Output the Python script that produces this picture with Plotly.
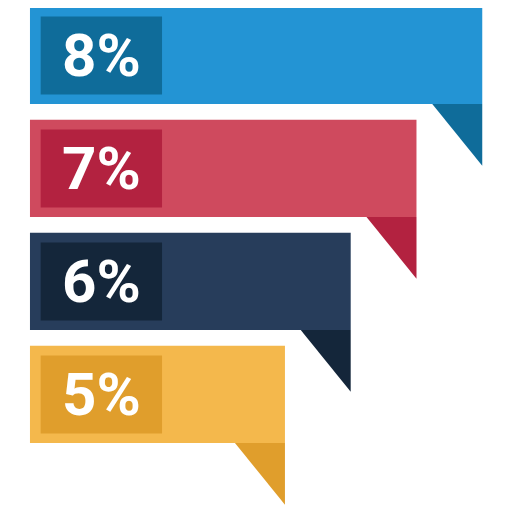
import plotly.graph_objects as go

# Data
labels = ["8%", "7%", "6%", "5%"]
values = [8, 7, 6, 5]
bar_colors = ["#2394D4", "#CF4A5E", "#273D5B", "#F4B84C"]
dark_colors = ["#0F6C9A", "#B32240", "#14263A", "#E09E2C"]

# Style constants (in axis units)
floor = 1.123          # visual start of bars on the value axis
box_start, box_end = 1.286, 3.131
bar_h = 0.86
box_h = 0.69
tri_w = 0.76
tri_h = 0.545

pos = list(range(len(values)))

fig = go.Figure()
fig.add_trace(go.Bar(
    y=pos, x=[v - floor for v in values], base=floor, orientation="h",
    width=bar_h, marker=dict(color=bar_colors, line=dict(width=0)),
    hoverinfo="skip", showlegend=False))
fig.add_trace(go.Bar(
    y=pos, x=[box_end - box_start] * len(values), base=box_start, orientation="h",
    width=box_h, marker=dict(color=dark_colors, line=dict(width=0)),
    hoverinfo="skip", showlegend=False))

for i, v in enumerate(values):
    yb = i + bar_h / 2
    fig.add_trace(go.Scatter(
        x=[v - tri_w, v, v, v - tri_w], y=[yb, yb, yb + tri_h, yb],
        mode="lines", fill="toself", fillcolor=dark_colors[i],
        line=dict(width=0, color=dark_colors[i]), hoverinfo="skip", showlegend=False))
    fig.add_annotation(x=(box_start + box_end) / 2, y=i, text=labels[i],
                       showarrow=False, xanchor="center", yanchor="middle",
                       font=dict(family="Roboto", size=60, color="white", weight="bold"))

fig.update_layout(
    width=512, height=512, margin=dict(l=0, r=0, t=0, b=0),
    paper_bgcolor="white", plot_bgcolor="white", barmode="overlay",
    xaxis=dict(range=[0.789, 8.574], visible=False, fixedrange=True),
    yaxis=dict(range=[4.111, -0.420], visible=False, fixedrange=True),
)
fig.write_html("out.html")
